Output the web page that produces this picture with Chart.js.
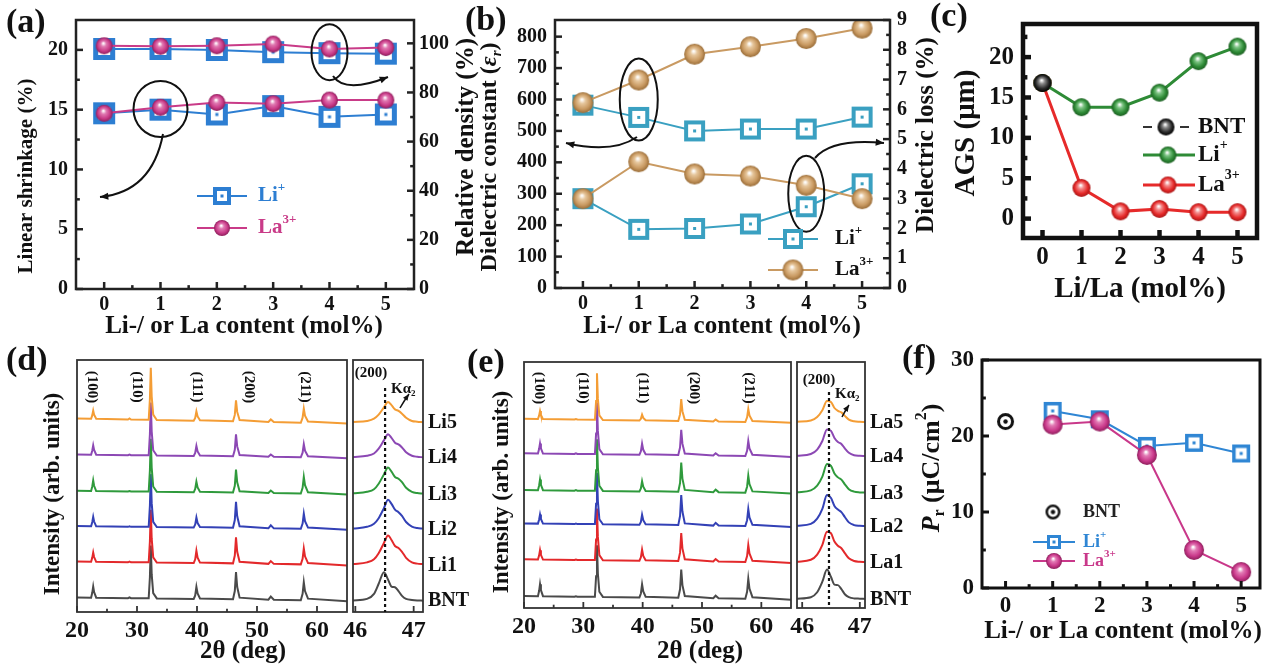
<!DOCTYPE html>
<html>
<head>
<meta charset="utf-8">
<script src="https://cdn.jsdelivr.net/npm/chart.js@4.4.1/dist/chart.umd.min.js"></script>
<style>
  body { margin: 0; background: #fff; width: 1270px; height: 667px; overflow: hidden; position: relative; }
  canvas { position: absolute; left: 0; top: 0; }
</style>
</head>
<body>
<canvas id="cA" width="1270" height="667"></canvas>
<canvas id="cB" width="1270" height="667"></canvas>
<canvas id="cC" width="1270" height="667"></canvas>
<canvas id="cD" width="1270" height="667"></canvas>
<canvas id="cD2" width="1270" height="667"></canvas>
<canvas id="cE" width="1270" height="667"></canvas>
<canvas id="cE2" width="1270" height="667"></canvas>
<canvas id="cF" width="1270" height="667"></canvas>
<script>
// ---- data ----
const contents = [0, 1, 2, 3, 4, 5];
const dopedContents = [1, 2, 3, 4, 5];

// (a) linear shrinkage (left axis) and relative density (right axis)
const shrinkageLi = [14.7, 15.0, 14.6, 15.3, 14.4, 14.6];
const shrinkageLa = [14.7, 15.2, 15.6, 15.5, 15.8, 15.8];
const densityLi = [97.7, 97.7, 97.3, 96.4, 96.0, 95.8];
const densityLa = [99.0, 98.8, 99.0, 99.7, 97.7, 98.3];

// (b) dielectric constant (left) and dielectric loss (right)
const permittivityLi = [582, 543, 500, 506, 506, 544];
const permittivityLa = [590, 662, 744, 768, 794, 827];
const lossLi = [3.0, 1.97, 2.0, 2.15, 2.73, 3.5];
const lossLa = [3.0, 4.24, 3.83, 3.76, 3.45, 3.0];

// (c) average grain size
const grainBNT = 16.8;
const grainLi = [16.8, 13.8, 13.8, 15.6, 19.5, 21.3];
const grainLa = [16.8, 3.8, 0.9, 1.2, 0.8, 0.8];

// (f) remanent polarization
const prBNT = 21.9;
const prLi = [23.3, 22.2, 18.7, 19.1, 17.7];
const prLa = [21.5, 21.9, 17.5, 5.0, 2.1];

// (d)/(e) XRD patterns, 20-65 deg
const xrdAngles = [20, 22.35, 22.55, 22.7, 22.85, 23.2, 28.5, 28.75, 29.0, 31.95, 32.15, 32.3, 32.45, 32.7, 33.3,
  39.45, 39.7, 39.9, 40.1, 40.5, 46.0, 46.3, 46.5, 46.7, 47.1, 51.9, 52.3, 52.8, 57.3, 57.6, 57.8, 58.0, 58.5, 65];
const xrdLiBNT = [1.5, 1.4, 3.4, 5.8, 3.6, 1.4, 1.2, 1.5, 1.2, 1.2, 9.5, 22.1, 10.6, 3.2, 1.1, 0.9, 2.3, 5.7, 3.1, 1.1, 0.8, 4.0, 11.5, 5.6, 1.4, 0.6, 1.8, 0.6, 0.4, 2.9, 7.5, 4.0, 1.0, 0];
const xrdLi1 = [1.5, 1.4, 3.1, 5.1, 3.3, 1.4, 1.2, 1.5, 1.2, 1.2, 9.5, 22.1, 10.6, 3.2, 1.1, 0.9, 2.4, 5.8, 3.1, 1.1, 0.8, 3.9, 11.1, 5.4, 1.4, 0.6, 1.7, 0.6, 0.4, 2.6, 6.7, 3.6, 0.9, 0];
const xrdLi2 = [1.5, 1.4, 3.1, 5.1, 3.3, 1.4, 1.2, 1.4, 1.2, 1.2, 9.5, 22.1, 10.6, 3.2, 1.1, 0.9, 2.1, 4.9, 2.7, 1.1, 0.8, 3.9, 11.1, 5.4, 1.4, 0.6, 1.8, 0.6, 0.4, 2.5, 6.4, 3.4, 0.9, 0];
const xrdLi3 = [1.5, 1.4, 3.3, 5.6, 3.5, 1.4, 1.2, 1.4, 1.2, 1.2, 9.5, 22.1, 10.6, 3.2, 1.1, 0.9, 2.2, 5.1, 2.8, 1.1, 0.8, 3.5, 9.9, 4.9, 1.3, 0.6, 1.6, 0.6, 0.4, 2.7, 7.0, 3.7, 0.9, 0];
const xrdLi4 = [1.5, 1.4, 3.1, 5.1, 3.3, 1.4, 1.2, 1.5, 1.2, 1.2, 9.5, 22.1, 10.6, 3.2, 1.1, 0.9, 2.1, 4.9, 2.7, 1.1, 0.8, 3.4, 9.5, 4.7, 1.3, 0.6, 1.5, 0.6, 0.4, 2.2, 5.6, 3.0, 0.8, 0];
const xrdLi5 = [1.8, 1.7, 3.1, 4.9, 3.3, 1.7, 1.4, 1.8, 1.4, 1.3, 9.5, 21.9, 10.5, 3.3, 1.2, 0.9, 2.0, 4.6, 2.6, 1.1, 0.7, 3.2, 9.0, 4.4, 1.2, 0.4, 1.4, 0.4, 0.1, 2.1, 5.7, 2.9, 0.6, -0.2];
const xrdLaBNT = [1.5, 1.4, 3.6, 6.3, 3.9, 1.4, 1.2, 1.4, 1.2, 1.2, 9.5, 22.1, 10.6, 3.2, 1.1, 0.9, 2.5, 6.2, 3.3, 1.2, 0.8, 4.2, 12.2, 5.9, 1.5, 0.6, 1.6, 0.6, 0.4, 3.2, 8.5, 4.5, 1.0, 0];
const xrdLa1 = [1.5, 1.4, 3.1, 5.2, 3.3, 1.4, 1.2, 1.4, 1.2, 1.2, 9.5, 22.1, 10.6, 3.2, 1.1, 0.9, 2.3, 5.4, 2.9, 1.1, 0.8, 4.2, 12.2, 5.9, 1.5, 0.6, 1.6, 0.6, 0.4, 2.8, 7.3, 3.9, 0.9, 0];
const xrdLa2 = [1.5, 1.4, 3.1, 5.1, 3.3, 1.4, 1.2, 1.4, 1.2, 1.2, 9.5, 22.1, 10.6, 3.2, 1.1, 0.9, 2.1, 5.0, 2.8, 1.1, 0.8, 4.5, 13.0, 6.3, 1.5, 0.6, 1.7, 0.6, 0.4, 2.8, 7.3, 3.9, 0.9, 0];
const xrdLa3 = [1.5, 1.4, 3.3, 5.7, 3.6, 1.4, 1.2, 1.4, 1.2, 1.2, 9.5, 22.1, 10.6, 3.2, 1.1, 0.9, 2.1, 5.0, 2.8, 1.1, 0.8, 4.3, 12.6, 6.1, 1.5, 0.6, 1.6, 0.6, 0.4, 2.8, 7.3, 3.9, 0.9, 0];
const xrdLa4 = [1.5, 1.4, 3.3, 5.5, 3.5, 1.4, 1.2, 1.5, 1.2, 1.2, 9.5, 22.1, 10.6, 3.2, 1.1, 0.9, 2.3, 5.4, 2.9, 1.1, 0.8, 3.9, 11.0, 5.4, 1.4, 0.6, 1.5, 0.6, 0.4, 2.5, 6.5, 3.5, 0.9, 0];
const xrdLa5 = [1.6, 1.5, 3.0, 4.8, 3.2, 1.5, 1.3, 1.5, 1.3, 1.2, 8.8, 20.1, 9.7, 3.0, 1.1, 0.9, 1.6, 3.3, 2.0, 1.0, 0.7, 3.4, 9.6, 4.7, 1.2, 0.5, 1.3, 0.5, 0.3, 2.2, 5.6, 3.0, 0.7, 0];

// (200) reflection close-ups
const zoomAnglesLi = [45.96, 46.2, 46.32, 46.4, 46.49, 46.56, 46.62, 46.68, 46.74, 46.8, 46.87, 46.97, 47.06, 47.16];
const zoomAnglesLa = [45.91, 46.15, 46.26, 46.35, 46.43, 46.5, 46.56, 46.62, 46.68, 46.74, 46.81, 46.9, 47.0, 47.09];
const peakLiBNT = [0.3, 0.9, 2.9, 6.9, 11.5, 8.6, 5.8, 5.5, 4.0, 2.1, 0.9, 0.5, 0.3, 0.2];
const peakLi1 = [0.5, 1.2, 2.4, 4.8, 8.9, 11.9, 10.1, 7.7, 6.9, 5.4, 3.0, 1.2, 0.7, 0.5];
const peakLi2 = [0.5, 1.2, 2.4, 4.6, 8.6, 11.9, 10.3, 8.0, 7.0, 5.5, 3.1, 1.3, 0.7, 0.5];
const peakLi3 = [0.5, 1.1, 2.1, 4.3, 8.0, 10.7, 9.1, 7.0, 6.3, 4.9, 2.7, 1.1, 0.6, 0.4];
const peakLi4 = [0.5, 1.0, 1.9, 3.8, 7.1, 9.5, 8.1, 6.2, 5.5, 4.3, 2.4, 1.0, 0.6, 0.4];
const peakLi5 = [0.4, 0.8, 1.7, 3.3, 6.2, 8.3, 7.1, 5.4, 4.8, 3.7, 2.1, 0.8, 0.5, 0.3];
const peakLaBNT = [0.4, 1.0, 3.0, 7.3, 12.2, 9.2, 6.1, 5.9, 4.3, 2.2, 1.0, 0.5, 0.4, 0.3];
const peakLa1 = [0.5, 1.3, 3.4, 7.4, 12.7, 12.1, 8.7, 7.0, 6.0, 4.0, 1.9, 0.8, 0.5, 0.4];
const peakLa2 = [0.5, 1.3, 3.4, 7.4, 13.0, 11.8, 8.6, 7.1, 6.1, 4.1, 1.9, 0.8, 0.5, 0.4];
const peakLa3 = [0.5, 1.3, 3.2, 6.9, 12.0, 11.3, 8.2, 6.6, 5.7, 3.8, 1.8, 0.8, 0.5, 0.4];
const peakLa4 = [0.5, 1.2, 3.0, 6.5, 11.2, 10.6, 7.7, 6.1, 5.3, 3.5, 1.7, 0.7, 0.5, 0.4];
const peakLa5 = [0.4, 0.9, 2.3, 5.1, 8.8, 8.4, 6.0, 4.8, 4.2, 2.8, 1.3, 0.6, 0.4, 0.3];

const liSamples = ['BNT', 'Li1', 'Li2', 'Li3', 'Li4', 'Li5'];
const laSamples = ['BNT', 'La1', 'La2', 'La3', 'La4', 'La5'];
const stackOffsetsLi = [4.3, 18.5, 32.6, 46.6, 61, 75];
const stackOffsetsLa = [3.4, 18.3, 32.9, 46.5, 61.4, 75.3];

// ---- styling ----
const FONT = "'Liberation Serif', 'Times New Roman', serif";
const traceColors = ['#4a4a4a', '#e3292b', '#3341b6', '#2f9a3c', '#8c48b4', '#f49d35'];
const LI_A = '#2d7ed2', LA_A = '#c93b88';
const LI_B = '#3aa0c1', LA_B = '#c99a62';
const GREEN_C = '#2e8b36', RED_C = '#e62a2a';
const LI_F = '#2f86d4', LA_F = '#c9388a';

Chart.defaults.animation = false;
Chart.defaults.events = [];
Chart.defaults.plugins.legend.display = false;
Chart.defaults.plugins.tooltip.enabled = false;

function sphere(base, light, dark, d) {
  const c = document.createElement('canvas');
  c.width = c.height = d + 2;
  const g = c.getContext('2d');
  const m = (d + 2) / 2, r = d / 2;
  const grad = g.createRadialGradient(m - r * 0.1, m - r * 0.3, r * 0.05, m, m, r);
  grad.addColorStop(0, '#ffffff');
  grad.addColorStop(0.28, light);
  grad.addColorStop(0.7, base);
  grad.addColorStop(1, dark);
  g.fillStyle = grad;
  g.beginPath(); g.arc(m, m, r, 0, Math.PI * 2); g.fill();
  return c;
}

function box(color, s, lw) {
  const c = document.createElement('canvas');
  c.width = c.height = s + 2;
  const g = c.getContext('2d');
  g.fillStyle = '#fff';
  g.fillRect(1, 1, s, s);
  g.strokeStyle = color; g.lineWidth = lw;
  g.strokeRect(1 + lw / 2, 1 + lw / 2, s - lw, s - lw);
  const m = (s + 2) / 2;
  g.fillStyle = color;
  g.fillRect(m - 1.5, m - 1.5, 3, 3);
  return c;
}

function dotCircle(d, lw) {
  const c = document.createElement('canvas');
  c.width = c.height = d + 2;
  const g = c.getContext('2d');
  const m = (d + 2) / 2;
  g.fillStyle = '#fff'; g.strokeStyle = '#111'; g.lineWidth = lw;
  g.beginPath(); g.arc(m, m, d / 2 - lw / 2, 0, Math.PI * 2); g.fill(); g.stroke();
  g.fillStyle = '#111';
  g.beginPath(); g.arc(m, m, 2.2, 0, Math.PI * 2); g.fill();
  return c;
}

// text made of plain / italic / sub / sup pieces
function drawRich(ctx, item) {
  const size = item.size || 20;
  const segs = item.parts.map(p => typeof p === 'string' ? { t: p } : { t: p.t, i: p.i, sub: p.sub, sup: p.sup });
  const fontFor = s => (s.i ? 'italic ' : '') + 'bold ' + ((s.sup || s.sub) ? Math.round(size * 0.62) : size) + 'px ' + FONT;
  let total = 0;
  segs.forEach(s => { ctx.font = fontFor(s); s.w = ctx.measureText(s.t).width; total += s.w; });
  ctx.save();
  ctx.translate(item.x, item.y);
  if (item.rot) ctx.rotate(item.rot * Math.PI / 180);
  ctx.fillStyle = item.color || '#111';
  ctx.textBaseline = 'middle';
  ctx.textAlign = 'left';
  let x = item.align === 'left' ? 0 : -total / 2;
  segs.forEach(s => {
    ctx.font = fontFor(s);
    const dy = s.sup ? -size * 0.4 : s.sub ? size * 0.3 : 0;
    ctx.fillText(s.t, x, dy);
    x += s.w;
  });
  ctx.restore();
}

function drawArrow(ctx, a) {
  const [x0, y0] = a.from, [cx, cy] = a.ctrl, [x1, y1] = a.to;
  ctx.beginPath(); ctx.moveTo(x0, y0); ctx.quadraticCurveTo(cx, cy, x1, y1);
  ctx.strokeStyle = '#111'; ctx.lineWidth = a.w || 2; ctx.stroke();
  const ang = Math.atan2(y1 - cy, x1 - cx), h = a.head || 9;
  ctx.beginPath(); ctx.moveTo(x1, y1);
  ctx.lineTo(x1 - h * Math.cos(ang - 0.4), y1 - h * Math.sin(ang - 0.4));
  ctx.lineTo(x1 - h * Math.cos(ang + 0.4), y1 - h * Math.sin(ang + 0.4));
  ctx.closePath(); ctx.fillStyle = '#111'; ctx.fill();
}

// frame + inward tick marks
function drawFrame(chart, o) {
  const { ctx, chartArea: a } = chart;
  ctx.save();
  ctx.strokeStyle = o.color;
  ctx.lineWidth = o.width;
  const tick = (axis, v, len) => {
    const s = chart.scales[axis];
    const p = s.getPixelForValue(v);
    ctx.beginPath();
    if (s.position === 'bottom') { ctx.moveTo(p, a.bottom); ctx.lineTo(p, a.bottom - len); }
    else if (s.position === 'left') { ctx.moveTo(a.left, p); ctx.lineTo(a.left + len, p); }
    else { ctx.moveTo(a.right, p); ctx.lineTo(a.right - len, p); }
    ctx.stroke();
  };
  o.marks.forEach(m => {
    m.major.forEach(v => tick(m.axis, v, o.len));
    (m.minor || []).forEach(v => tick(m.axis, v, o.len * 0.55));
  });
  ctx.strokeRect(a.left, a.top, a.right - a.left, a.bottom - a.top);
  ctx.restore();
}

// annotations: ellipses, arrows, legends, titles
function drawDecor(chart, o) {
  const ctx = chart.ctx;
  ctx.save();
  (o.ellipses || []).forEach(e => {
    const cx = chart.scales.x.getPixelForValue(e.x);
    const cy = chart.scales[e.axis || 'y'].getPixelForValue(e.y);
    ctx.beginPath(); ctx.ellipse(cx, cy, e.rx, e.ry, 0, 0, Math.PI * 2);
    ctx.strokeStyle = '#111'; ctx.lineWidth = 2; ctx.stroke();
  });
  (o.arrows || []).forEach(a => drawArrow(ctx, a));
  (o.vlines || []).forEach(v => {
    const x = chart.scales.x.getPixelForValue(v.x);
    ctx.beginPath(); ctx.setLineDash([3, 3]);
    ctx.moveTo(x, chart.chartArea.top + (v.gapTop || 0)); ctx.lineTo(x, chart.chartArea.bottom);
    ctx.strokeStyle = '#111'; ctx.lineWidth = 2.2; ctx.stroke(); ctx.setLineDash([]);
  });
  (o.legend || []).forEach(l => {
    const mx = l.mx !== undefined ? l.mx : (l.x1 + l.x2) / 2;
    ctx.strokeStyle = l.lineColor || '#111'; ctx.lineWidth = l.lw || 2;
    if (l.dash) {
      ctx.beginPath(); ctx.moveTo(l.x1, l.y); ctx.lineTo(l.x1 + 9, l.y);
      ctx.moveTo(l.x2 - 9, l.y); ctx.lineTo(l.x2, l.y); ctx.stroke();
    } else if (l.x1 !== undefined) {
      ctx.beginPath(); ctx.moveTo(l.x1, l.y); ctx.lineTo(l.x2, l.y); ctx.stroke();
    }
    ctx.drawImage(l.img, mx - l.img.width / 2, l.y - l.img.height / 2);
    drawRich(ctx, { x: l.tx, y: l.y, parts: l.parts, size: l.size, color: l.color, align: 'left' });
  });
  (o.hkl || []).forEach(h => drawRich(ctx, { x: chart.scales.x.getPixelForValue(h.x), y: h.y, parts: [h.t], size: 15, rot: 90 }));
  if (o.samples) {
    o.samples.names.forEach((n, k) => drawRich(ctx, {
      x: o.samples.x, y: chart.scales.y.getPixelForValue(o.samples.offsets[k]), parts: [n], size: 20, align: 'left'
    }));
  }
  (o.texts || []).forEach(t => drawRich(ctx, t));
  ctx.restore();
}

function axisCfg(s, position, size) {
  return {
    type: 'linear', position, min: s.min, max: s.max,
    grid: { display: false, drawTicks: false },
    border: { display: false },
    ticks: {
      font: { family: FONT, size: s.font, weight: 'bold' }, color: '#111',
      padding: s.pad, autoSkip: false, maxRotation: 0, minRotation: 0
    },
    afterBuildTicks: sc => { sc.ticks = s.major.map(v => ({ value: v })); },
    afterFit: sc => { if (position === 'bottom') sc.height = size; else sc.width = size; }
  };
}

function buildChart(id, area, datasets, opt) {
  const LW = 70, RW = 60, BH = 40;
  const scales = { x: axisCfg(opt.x, 'bottom', BH) };
  scales.y = opt.y ? axisCfg(opt.y, 'left', LW) : { type: 'linear', display: false, min: opt.yRange[0], max: opt.yRange[1] };
  if (opt.y2) scales.y2 = axisCfg(opt.y2, 'right', RW);
  const marks = [{ axis: 'x', major: opt.x.major, minor: opt.x.minor }];
  if (opt.y) marks.push({ axis: 'y', major: opt.y.major, minor: opt.y.minor });
  if (opt.y2) marks.push({ axis: 'y2', major: opt.y2.major, minor: opt.y2.minor });
  const frameCfg = { width: opt.frameWidth || 2.5, color: opt.frameColor || '#222', marks, len: opt.tickLen || 7 };
  const decor = opt.decor || {};
  return new Chart(document.getElementById(id), {
    type: 'line',
    data: { datasets },
    options: {
      responsive: false,
      devicePixelRatio: 1,
      layout: {
        padding: {
          left: area.l - (opt.y ? LW : 0),
          right: 1270 - area.r - (opt.y2 ? RW : 0),
          top: area.t,
          bottom: 667 - area.b - BH
        }
      },
      scales
    },
    plugins: [
      { id: 'frame', afterDatasetsDraw: c => drawFrame(c, frameCfg) },
      { id: 'decor', afterDraw: c => drawDecor(c, decor) }
    ]
  });
}

function series(xs, ys, color, img, axis) {
  return {
    data: xs.map((x, i) => ({ x, y: ys[i] })),
    yAxisID: axis || 'y',
    borderColor: color, borderWidth: 2, pointStyle: img, pointRadius: 8, tension: 0
  };
}

function xrdSets(angles, patterns, offsets, smooth) {
  return patterns.map((p, k) => ({
    data: angles.map((a, i) => ({ x: a, y: p[i] + offsets[k] })),
    borderColor: traceColors[k], borderWidth: 2, pointRadius: 0,
    tension: 0, cubicInterpolationMode: smooth ? 'monotone' : 'default'
  })).reverse();
}

const liSup = ['Li', { t: '+', sup: true }];
const laSup = ['La', { t: '3+', sup: true }];
const contentTitle = 'Li-/ or La content (mol%)';

// ---- (a) ----
const sqA = box(LI_A, 22, 5), spA = sphere(LA_A, '#e07ab2', '#8e1f5c', 17);
buildChart('cA', { l: 76, t: 15, r: 414, b: 289 }, [
  series(contents, shrinkageLa, LA_A, spA),
  series(contents, densityLa, LA_A, spA, 'y2'),
  series(contents, shrinkageLi, LI_A, sqA),
  series(contents, densityLi, LI_A, sqA, 'y2')
], {
  x: { min: -0.5, max: 5.5, major: contents, minor: [0.5, 1.5, 2.5, 3.5, 4.5], font: 20, pad: 4 },
  y: { min: 0, max: 22.5, major: [0, 5, 10, 15, 20], minor: [2.5, 7.5, 12.5, 17.5], font: 20, pad: 8 },
  y2: { min: 0, max: 109.5, major: [0, 20, 40, 60, 80, 100], minor: [10, 30, 50, 70, 90], font: 20, pad: 5 },
  decor: {
    ellipses: [{ x: 1, y: 15.06, rx: 27, ry: 28 }, { x: 4, y: 19.8, rx: 18, ry: 28 }],
    arrows: [
      { from: [163, 134], ctrl: [152, 192], to: [100, 197] },
      { from: [333, 76], ctrl: [345, 94], to: [388, 77] }
    ],
    legend: [
      { y: 196, x1: 197, x2: 247, img: box(LI_A, 18, 4), tx: 258, parts: liSup, size: 21, color: LI_A, lineColor: LI_A },
      { y: 228, x1: 197, x2: 247, img: sphere(LA_A, '#e07ab2', '#8e1f5c', 16), tx: 258, parts: laSup, size: 21, color: LA_A, lineColor: LA_A }
    ],
    texts: [
      { x: 6, y: 23, parts: ['(a)'], size: 34, align: 'left' },
      { x: 244, y: 327, parts: [contentTitle], size: 25 },
      { x: 27, y: 176, parts: ['Linear shrinkage (%)'], size: 21, rot: -90 },
      { x: 467, y: 147, parts: ['Relative density (%)'], size: 25, rot: -90 }
    ]
  }
});

// ---- (b) ----
const sqB = box(LI_B, 21, 4), spB = sphere(LA_B, '#e6c69c', '#9a6d38', 21);
buildChart('cB', { l: 555, t: 15, r: 890, b: 288 }, [
  series(contents, permittivityLa, LA_B, spB),
  series(contents, lossLa, LA_B, spB, 'y2'),
  series(contents, permittivityLi, LI_B, sqB),
  series(contents, lossLi, LI_B, sqB, 'y2')
], {
  x: { min: -0.5, max: 5.5, major: contents, minor: [0.5, 1.5, 2.5, 3.5, 4.5], font: 20, pad: 4 },
  y: { min: 0, max: 853, major: [0, 100, 200, 300, 400, 500, 600, 700, 800], minor: [50, 150, 250, 350, 450, 550, 650, 750], font: 20, pad: 8 },
  y2: { min: 0, max: 9, major: [0, 1, 2, 3, 4, 5, 6, 7, 8, 9], minor: [0.5, 1.5, 2.5, 3.5, 4.5, 5.5, 6.5, 7.5, 8.5], font: 20, pad: 7 },
  decor: {
    ellipses: [{ x: 1, y: 600, rx: 19, ry: 41 }, { x: 4, y: 300, rx: 18, ry: 38 }],
    arrows: [
      { from: [637, 137], ctrl: [612, 154], to: [566, 143] },
      { from: [815, 158], ctrl: [832, 138], to: [884, 143] }
    ],
    legend: [
      { y: 239, x1: 768, x2: 818, img: box(LI_B, 20, 4), tx: 835, parts: liSup, size: 21, color: '#111', lineColor: LI_B },
      { y: 270, x1: 768, x2: 818, img: sphere(LA_B, '#e6c69c', '#9a6d38', 21), tx: 835, parts: laSup, size: 21, color: '#111', lineColor: LA_B }
    ],
    texts: [
      { x: 465, y: 21, parts: ['(b)'], size: 34, align: 'left' },
      { x: 722, y: 327, parts: [contentTitle], size: 25 },
      { x: 490, y: 157, parts: ['Dielectric constant (', { t: 'ε', i: true }, { t: 'r', sub: true, i: true }, ')'], size: 24, rot: -90 },
      { x: 927, y: 135, parts: ['Dielectric loss (%)'], size: 25, rot: -90 }
    ]
  }
});

// ---- (c) ----
const spBNT = sphere('#2a2a2a', '#8a8a8a', '#000', 18);
const spGreen = sphere(GREEN_C, '#7cc383', '#1c5e22', 18);
const spRed = sphere(RED_C, '#f38a8a', '#a81616', 18);
const grainSets = [series(contents, grainLi, GREEN_C, spGreen), series(contents, grainLa, RED_C, spRed)];
grainSets.forEach(d => { d.borderWidth = 3; });
buildChart('cC', { l: 1023, t: 20, r: 1257, b: 238 }, [
  { data: [{ x: 0, y: grainBNT }], borderWidth: 0, pointStyle: spBNT, pointRadius: 9, showLine: false },
  ...grainSets
], {
  x: { min: -0.5, max: 5.5, major: contents, minor: [], font: 25, pad: 5 },
  y: { min: -2.4, max: 24.1, major: [0, 5, 10, 15, 20], minor: [2.5, 7.5, 12.5, 17.5, 22.5], font: 25, pad: 9 },
  frameWidth: 4.5, frameColor: '#111', tickLen: 8,
  decor: {
    legend: [
      { y: 127, x1: 1143, x2: 1189, mx: 1166, dash: true, img: sphere('#2a2a2a', '#8a8a8a', '#000', 17), tx: 1198, parts: ['BNT'], size: 23, color: '#111', lineColor: '#333' },
      { y: 155, x1: 1143, x2: 1195, mx: 1168, img: sphere(GREEN_C, '#7cc383', '#1c5e22', 17), tx: 1198, parts: liSup, size: 23, color: '#111', lineColor: GREEN_C, lw: 3 },
      { y: 185, x1: 1143, x2: 1195, mx: 1168, img: sphere(RED_C, '#f38a8a', '#a81616', 17), tx: 1198, parts: laSup, size: 23, color: '#111', lineColor: RED_C, lw: 3 }
    ],
    texts: [
      { x: 930, y: 17, parts: ['(c)'], size: 34, align: 'left' },
      { x: 1140, y: 290, parts: ['Li/La (mol%)'], size: 29 },
      { x: 967, y: 133, parts: ['AGS (μm)'], size: 29, rot: -90 }
    ]
  }
});

// ---- (d) ----
const hklTags = (y) => [
  { x: 22.5, y, t: '(100)' }, { x: 30.0, y, t: '(110)' }, { x: 40.0, y, t: '(111)' },
  { x: 48.6, y, t: '(200)' }, { x: 57.9, y, t: '(211)' }
];
buildChart('cD', { l: 77, t: 360, r: 347, b: 612 },
  xrdSets(xrdAngles, [xrdLiBNT, xrdLi1, xrdLi2, xrdLi3, xrdLi4, xrdLi5], stackOffsetsLi, false), {
  x: { min: 20, max: 65, major: [20, 30, 40, 50, 60], minor: [25, 35, 45, 55], font: 24, pad: 4 },
  yRange: [0, 100], frameWidth: 1.8, frameColor: '#333', tickLen: 6,
  decor: {
    hkl: hklTags(387),
    texts: [
      { x: 6, y: 361, parts: ['(d)'], size: 34, align: 'left' },
      { x: 243, y: 652, parts: ['2θ (deg)'], size: 25 },
      { x: 53, y: 494, parts: ['Intensity (arb. units)'], size: 23, rot: -90 }
    ]
  }
});
buildChart('cD2', { l: 353, t: 360, r: 423, b: 612 },
  xrdSets(zoomAnglesLi, [peakLiBNT, peakLi1, peakLi2, peakLi3, peakLi4, peakLi5], stackOffsetsLi, true), {
  x: { min: 45.96, max: 47.16, major: [46, 47], minor: [], font: 24, pad: 4 },
  yRange: [0, 100], frameWidth: 1.8, frameColor: '#333', tickLen: 6,
  decor: {
    vlines: [{ x: 46.51, gapTop: 28 }],
    arrows: [{ from: [400, 408], ctrl: [404, 401], to: [409, 394], w: 1.5, head: 7 }],
    samples: { x: 428, names: liSamples, offsets: stackOffsetsLi },
    texts: [
      { x: 371, y: 373, parts: ['(200)'], size: 15 },
      { x: 391, y: 389, parts: ['Kα', { t: '2', sub: true }], size: 15, align: 'left' }
    ]
  }
});

// ---- (e) ----
buildChart('cE', { l: 524, t: 362, r: 791, b: 608 },
  xrdSets(xrdAngles, [xrdLaBNT, xrdLa1, xrdLa2, xrdLa3, xrdLa4, xrdLa5], stackOffsetsLa, false), {
  x: { min: 20, max: 65, major: [20, 30, 40, 50, 60], minor: [25, 35, 45, 55], font: 24, pad: 4 },
  yRange: [0, 100], frameWidth: 1.8, frameColor: '#333', tickLen: 6,
  decor: {
    hkl: hklTags(388),
    texts: [
      { x: 467, y: 363, parts: ['(e)'], size: 34, align: 'left' },
      { x: 700, y: 652, parts: ['2θ (deg)'], size: 25 },
      { x: 502, y: 492, parts: ['Intensity (arb. units)'], size: 23, rot: -90 }
    ]
  }
});
buildChart('cE2', { l: 797, t: 362, r: 865, b: 608 },
  xrdSets(zoomAnglesLa, [peakLaBNT, peakLa1, peakLa2, peakLa3, peakLa4, peakLa5], stackOffsetsLa, true), {
  x: { min: 45.91, max: 47.09, major: [46, 47], minor: [], font: 24, pad: 4 },
  yRange: [0, 100], frameWidth: 1.8, frameColor: '#333', tickLen: 6,
  decor: {
    vlines: [{ x: 46.465, gapTop: 30 }],
    arrows: [{ from: [842, 417], ctrl: [845, 411], to: [849, 405], w: 1.5, head: 7 }],
    samples: { x: 870, names: laSamples, offsets: stackOffsetsLa },
    texts: [
      { x: 819, y: 380, parts: ['(200)'], size: 15 },
      { x: 835, y: 394, parts: ['Kα', { t: '2', sub: true }], size: 15, align: 'left' }
    ]
  }
});

// ---- (f) ----
const sqF = box(LI_F, 18, 3.5), spF = sphere(LA_F, '#e27ab4', '#8e1f5c', 20);
buildChart('cF', { l: 982, t: 360, r: 1262, b: 588 }, [
  { data: [{ x: 0, y: prBNT }], borderWidth: 0, pointStyle: dotCircle(17, 3), pointRadius: 9, showLine: false },
  series(dopedContents, prLa, LA_F, spF),
  series(dopedContents, prLi, LI_F, sqF)
], {
  x: { min: -0.5, max: 5.4, major: contents, minor: [0.5, 1.5, 2.5, 3.5, 4.5], font: 23, pad: 4 },
  y: { min: 0, max: 30, major: [0, 10, 20, 30], minor: [5, 15, 25], font: 23, pad: 8 },
  frameWidth: 3, frameColor: '#111', tickLen: 7,
  decor: {
    legend: [
      { y: 512, img: dotCircle(15, 2.5), mx: 1053, tx: 1083, parts: ['BNT'], size: 18, color: '#222' },
      { y: 542, x1: 1033, x2: 1075, img: box(LI_F, 14, 3), tx: 1083, parts: liSup, size: 18, color: LI_F, lineColor: LI_F },
      { y: 561, x1: 1033, x2: 1075, img: sphere(LA_F, '#e27ab4', '#8e1f5c', 16), tx: 1083, parts: laSup, size: 18, color: LA_F, lineColor: LA_F }
    ],
    texts: [
      { x: 902, y: 359, parts: ['(f)'], size: 34, align: 'left' },
      { x: 1123, y: 632, parts: [contentTitle], size: 25 },
      { x: 932, y: 468, parts: [{ t: 'P', i: true }, { t: 'r', sub: true }, ' (μC/cm', { t: '2', sup: true }, ')'], size: 26, rot: -90 }
    ]
  }
});
</script>
</body>
</html>
